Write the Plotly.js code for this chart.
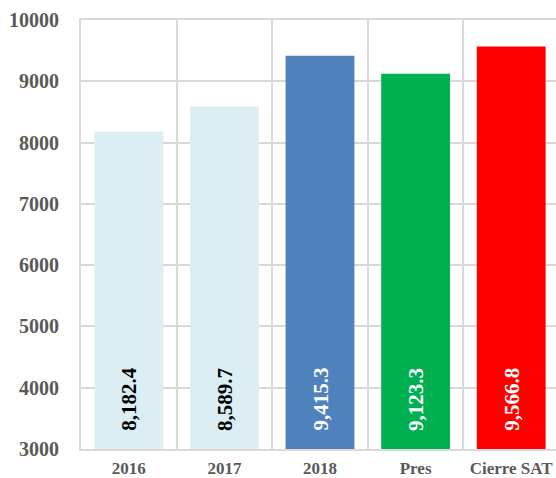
<!DOCTYPE html>
<html>
<head>
<meta charset="utf-8">
<script src="https://cdn.plot.ly/plotly-3.0.1.min.js"></script>
<style>html,body{margin:0;padding:0;background:#fff;overflow:hidden;width:556px;height:478px}#chart{width:559px;height:478px}</style>
</head>
<body>
<div id="chart"></div>
<script>
const categories = ["2016", "2017", "2018", "Pres", "Cierre SAT"];
const values = [8182.4, 8589.7, 9415.3, 9123.3, 9566.8];
const barColors = ["#DAEEF3", "#DAEEF3", "#4F81BD", "#00B050", "#FF0000"];
const labelColors = ["#000000", "#000000", "#FFFFFF", "#FFFFFF", "#FFFFFF"];
const yTicks = [3000, 4000, 5000, 6000, 7000, 8000, 9000, 10000];

const fmt = v => v.toLocaleString("en-US", {minimumFractionDigits: 1, maximumFractionDigits: 1});
const serif = "Liberation Serif, Times New Roman, serif";

const trace = {
  type: "bar",
  x: categories,
  y: values,
  marker: {color: barColors, line: {width: 0}},
  hoverinfo: "none"
};

// category index used as annotation x (category axis)
const annotations = categories.map((c, i) => ({
  x: i, y: 3000, xref: "x", yref: "y",
  text: "<b>" + fmt(values[i]) + "</b>",
  textangle: -90,
  showarrow: false,
  yanchor: "bottom",
  xanchor: "center",
  yshift: 16,
  font: {family: serif, size: 21, color: labelColors[i]}
}));

const layout = {
  width: 559, height: 478,
  margin: {l: 81, r: 0, t: 20, b: 29, pad: 0},
  paper_bgcolor: "#fff", plot_bgcolor: "#fff",
  showlegend: false,
  bargap: 0.28,
  xaxis: {
    type: "category",
    categoryorder: "array", categoryarray: categories,
    range: [-0.5, categories.length - 0.5], autorange: false,
    tickson: "boundaries",
    showgrid: true, gridcolor: "#D9D9D9", gridwidth: 2,
    showline: true, linecolor: "#D9D9D9", linewidth: 2, mirror: true,
    ticks: "", ticklabelstandoff: 3,
    tickfont: {family: serif, size: 17, color: "#595959", weight: "bold"},
    fixedrange: true
  },
  yaxis: {
    range: [3000, 10000], autorange: false,
    tickvals: yTicks,
    ticktext: yTicks.map(String),
    showgrid: true, gridcolor: "#D9D9D9", gridwidth: 2,
    showline: true, linecolor: "#D9D9D9", linewidth: 2, mirror: true,
    zeroline: false,
    ticks: "", ticklabelstandoff: 16,
    tickfont: {family: serif, size: 20, color: "#595959", weight: "bold"},
    fixedrange: true
  },
  annotations: annotations
};

Plotly.newPlot("chart", [trace], layout, {displayModeBar: false, staticPlot: true});
</script>
</body>
</html>
